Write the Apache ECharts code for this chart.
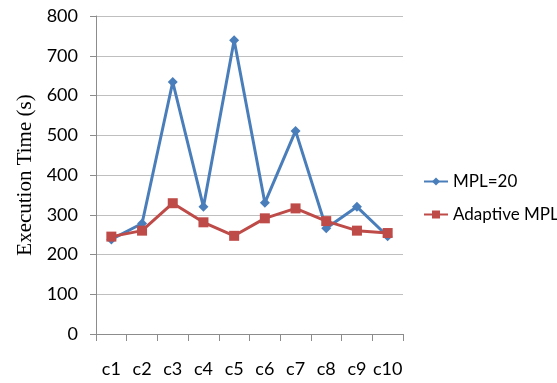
<!DOCTYPE html>
<html>
<head>
<meta charset="utf-8">
<script src="https://cdn.jsdelivr.net/npm/echarts@6/dist/echarts.min.js"></script>
<style>
  html, body { margin: 0; padding: 0; background: #fff; }
  #chart { width: 557px; height: 383px; }
</style>
</head>
<body>
<div id="chart"></div>
<script>
const categories = ["c1", "c2", "c3", "c4", "c5", "c6", "c7", "c8", "c9", "c10"];
const mpl20 = [238, 278, 634, 320, 739, 330, 511, 266, 320, 246];
const adaptive = [245, 260, 329, 281, 247, 291, 316, 284, 260, 254];

const chart = echarts.init(document.getElementById("chart"), null, { renderer: "canvas" });
const font = "Lato, 'Liberation Sans', sans-serif";

chart.setOption({
  backgroundColor: "#fff",
  animation: false,
  grid: { left: 96, right: 154, top: 16, bottom: 49, outerBoundsMode: "none", containLabel: false },
  legend: {
    orient: "vertical",
    left: 418,
    top: 168,
    itemGap: 16,
    itemWidth: 24,
    itemHeight: 10,
    textStyle: { fontFamily: font, fontSize: 17, color: "#000" },
    data: ["MPL=20", "Adaptive MPL"],
  },
  xAxis: {
    type: "category",
    data: categories,
    boundaryGap: true,
    axisLine: { lineStyle: { color: "#8c8c8c", width: 1 } },
    axisTick: { show: true, length: 7, lineStyle: { color: "#8c8c8c" } },
    axisLabel: { fontFamily: font, fontSize: 18, color: "#000", margin: 26, interval: 0 },
  },
  yAxis: {
    type: "value",
    min: 0,
    max: 800,
    interval: 100,
    name: "Execution Time (s)",
    nameLocation: "middle",
    nameGap: 56,
    nameTextStyle: { fontFamily: "'Liberation Serif', serif", fontSize: 21, color: "#000" },
    axisLine: { show: true, lineStyle: { color: "#8c8c8c", width: 1 } },
    axisTick: { show: true, length: 6, lineStyle: { color: "#8c8c8c" } },
    axisLabel: { fontFamily: font, fontSize: 18, color: "#000", margin: 18 },
    splitLine: { lineStyle: { color: "#bfbfbf", width: 1 } },
  },
  series: [
    {
      name: "MPL=20",
      type: "line",
      data: mpl20,
      symbol: "diamond",
      symbolSize: 10,
      itemStyle: { color: "#4a7ebb" },
      lineStyle: { color: "#4a7ebb", width: 3 },
    },
    {
      name: "Adaptive MPL",
      type: "line",
      data: adaptive,
      symbol: "rect",
      symbolSize: 10,
      itemStyle: { color: "#be4b48" },
      lineStyle: { color: "#be4b48", width: 3 },
    },
  ],
});
</script>
</body>
</html>
